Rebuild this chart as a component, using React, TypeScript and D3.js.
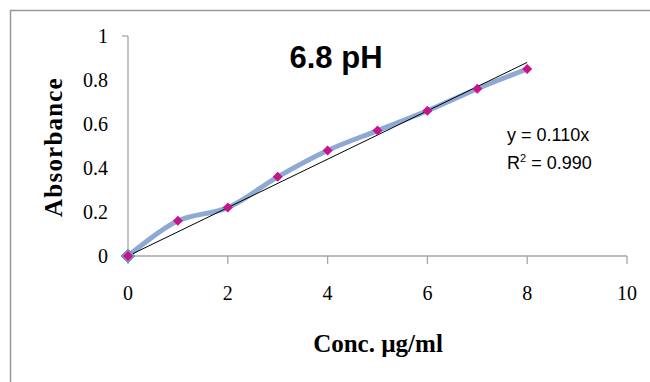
import React from "react";
import * as d3 from "d3";

const concentrations = [0, 1, 2, 3, 4, 5, 6, 7, 8];
const absorbance = [0, 0.16, 0.22, 0.36, 0.48, 0.57, 0.66, 0.76, 0.85];
const xTicks = [0, 2, 4, 6, 8, 10];
const yTicks = [0, 0.2, 0.4, 0.6, 0.8, 1];
const slope = 0.11;
const titleText = "6.8 pH";
const eqText = "y = 0.110x";
const r2Value = "0.990";
const xTitle = "Conc. µg/ml";
const yTitle = "Absorbance";

export default function App() {
  const W = 650, H = 382;
  const x = d3.scaleLinear().domain([0, 10]).range([128, 627]);
  const y = d3.scaleLinear().domain([0, 1]).range([256, 36]);
  const pts: [number, number][] = concentrations.map((c, i) => [x(c), y(absorbance[i])]);
  const line = d3.line().curve(d3.curveCatmullRom.alpha(0.5))(pts) || "";
  const trend = d3.line()([
    [x(0), y(0)],
    [x(8), y(slope * 8)],
  ]) || "";
  const diamond = (cx: number, cy: number, r: number) =>
    `M${cx},${cy - r}L${cx + r},${cy}L${cx},${cy + r}L${cx - r},${cy}Z`;
  const serif = "'Liberation Serif', 'Times New Roman', serif";
  const sans = "'Liberation Sans', Arial, sans-serif";
  return (
    <svg width={W} height={H} style={{ position: "absolute", left: 0, top: 0, background: "#fff" }}>
      <rect x={10.5} y={10.5} width={700} height={400} fill="#fff" stroke="#999" strokeWidth={1.5} />
      {/* axes */}
      <line x1={x(0)} x2={x(0)} y1={y(0)} y2={y(1)} stroke="#a6a6a6" strokeWidth={1.3} />
      <line x1={x(0) - 6} x2={x(0)} y1={y(1)} y2={y(1)} stroke="#a6a6a6" strokeWidth={1.3} />
      <line x1={x(0)} x2={x(10)} y1={y(0)} y2={y(0)} stroke="#a6a6a6" strokeWidth={1.3} />
      {xTicks.map((t) => (
        <line key={"xt" + t} x1={x(t)} x2={x(t)} y1={y(0)} y2={y(0) + 8} stroke="#a6a6a6" strokeWidth={1.3} />
      ))}
      {yTicks.map((t) => (
        <text key={"yl" + t} x={108} y={y(t)} dy="0.35em" textAnchor="end" fontFamily={serif} fontSize={20} fill="#000">
          {t}
        </text>
      ))}
      {xTicks.map((t) => (
        <text key={"xl" + t} x={x(t)} y={300} textAnchor="middle" fontFamily={serif} fontSize={20} fill="#000">
          {t}
        </text>
      ))}
      {/* series line */}
      <path d={line} fill="none" stroke="#8ea9d4" strokeWidth={5} strokeLinejoin="round" strokeLinecap="round" />
      {/* trendline */}
      <path d={trend} fill="none" stroke="#000" strokeWidth={1} />
      {/* origin blue marker */}
      <path d={diamond(x(0), y(0), 7)} fill="#7f9bc9" stroke="#6f8cbf" strokeWidth={1} />
      {pts.map((p, i) => (
        <path key={"m" + i} d={diamond(p[0], p[1], 5)} fill="#c8148c" />
      ))}
      {/* title */}
      <text x={336} y={68} textAnchor="middle" fontFamily={sans} fontWeight="bold" fontSize={31} fill="#000">
        {titleText}
      </text>
      <text x={507} y={141} fontFamily={sans} fontSize={18} fill="#000">
        {eqText}
      </text>
      <text x={507} y={169} fontFamily={sans} fontSize={18} fill="#000">
        R<tspan dy={-7} fontSize={11}>2</tspan>
        <tspan dy={7}>{" = " + r2Value}</tspan>
      </text>
      {/* axis titles */}
      <text x={378} y={352} textAnchor="middle" fontFamily={serif} fontWeight="bold" fontSize={25} fill="#000">
        {xTitle}
      </text>
      <text
        transform={`translate(62,147) rotate(-90)`}
        textAnchor="middle"
        fontFamily={serif}
        fontWeight="bold"
        fontSize={25}
        letterSpacing={1.2}
        fill="#000"
      >
        {yTitle}
      </text>
    </svg>
  );
}
